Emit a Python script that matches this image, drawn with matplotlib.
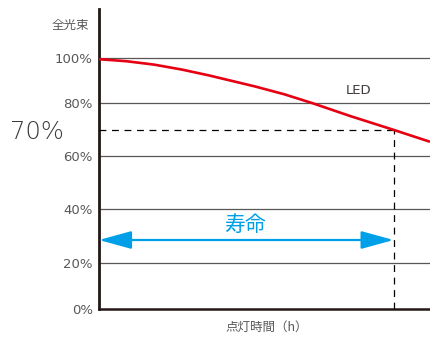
import matplotlib
matplotlib.use('Agg')
import matplotlib.pyplot as plt
import numpy as np
from matplotlib.patches import ArrowStyle

# (x in arbitrary hour units 0-100, y in % of initial flux)
hours = [0, 8.3, 16.6, 25, 33.2, 40, 47.1, 56, 64.6, 75.8, 88.8, 100]
flux = [99.6, 98.7, 97.2, 95.0, 92.4, 90.0, 87.5, 84.0, 80.0, 75.2, 70.0, 65.4]
life_hours = 89
life_level = 70
arrow_level = 28.5
yticks = [0, 20, 40, 60, 80, 100]
ytick_labels = ['0%', '20%', '40%', '60%', '80%', '100%']

# the gridlines in the original are not evenly spaced; map values to pixel height
scale_vals = [0, 20, 40, 60, 80, 100, 140]
scale_px = [0, 46.6, 100, 153.3, 206, 251, 341]

def fwd(v):
    return np.interp(v, scale_vals, scale_px)

def inv(p):
    return np.interp(p, scale_px, scale_vals)

plt.rcParams['font.family'] = ['DejaVu Sans', 'Noto Sans CJK JP']
GRAY = '#595757'
DARK = '#231815'
JP = ['Noto Sans CJK JP']

W, H = 430, 337
fig = plt.figure(figsize=(W / 100, H / 100), dpi=100)
ax = fig.add_axes([99 / W, (H - 309.3) / H, (W - 99) / W, 300 / H])
ax.set_yscale('function', functions=(fwd, inv))
ax.set_xlim(0, 100)
ax.set_ylim(0, inv(300))

for t in yticks[1:]:
    ax.axhline(t, color=GRAY, lw=0.9, zorder=1)

ax.plot(hours, flux, color='#e60012', lw=1.9, zorder=4, solid_capstyle='butt')

ax.plot([0, life_hours], [life_level, life_level], color='black', lw=0.9,
        dashes=(5.5, 4.5), zorder=3)
ax.plot([life_hours, life_hours], [0, life_level], color='black', lw=0.9,
        dashes=(5.5, 4.5), zorder=3)

ax.annotate('', xy=(life_hours, arrow_level), xytext=(0, arrow_level),
            arrowprops=dict(arrowstyle=ArrowStyle('<|-|>', head_length=2.0, head_width=0.55),
                            mutation_scale=10, color='#00a0e9', lw=1.6,
                            shrinkA=0, shrinkB=0), zorder=5)
ax.text(life_hours / 2 - 0.5, arrow_level + 5.5, '寿命', color='#00a0e9', fontsize=15,
        family=JP, ha='center', va='center')

ax.text(0.785, 0.728, 'LED', transform=ax.transAxes, fontsize=9.5, color='#3e3a39',
        ha='center', va='center')

ax.set_yticks(yticks)
ax.set_yticklabels(ytick_labels)
ax.set_xticks([])
ax.tick_params(axis='y', length=0, pad=4.5, labelsize=9.5, labelcolor=GRAY)

for s in ['top', 'right']:
    ax.spines[s].set_visible(False)
ax.spines['left'].set_color(DARK)
ax.spines['left'].set_linewidth(2.0)
ax.spines['bottom'].set_color(DARK)
ax.spines['bottom'].set_linewidth(1.8)

fig.text(70 / W, 1 - 25 / H, '全光束', fontsize=9, color=GRAY,
         family=JP, ha='center', va='center')
fig.text(36.5 / W, 1 - 132 / H, '70%', fontsize=17.5, color='#3e3a39',
         ha='center', va='center', fontweight='light')
fig.text(267 / W, 1 - 327 / H, '点灯時間（h）', fontsize=9, color=GRAY,
         family=JP, ha='center', va='center')

fig.savefig('out.png', dpi=100)
